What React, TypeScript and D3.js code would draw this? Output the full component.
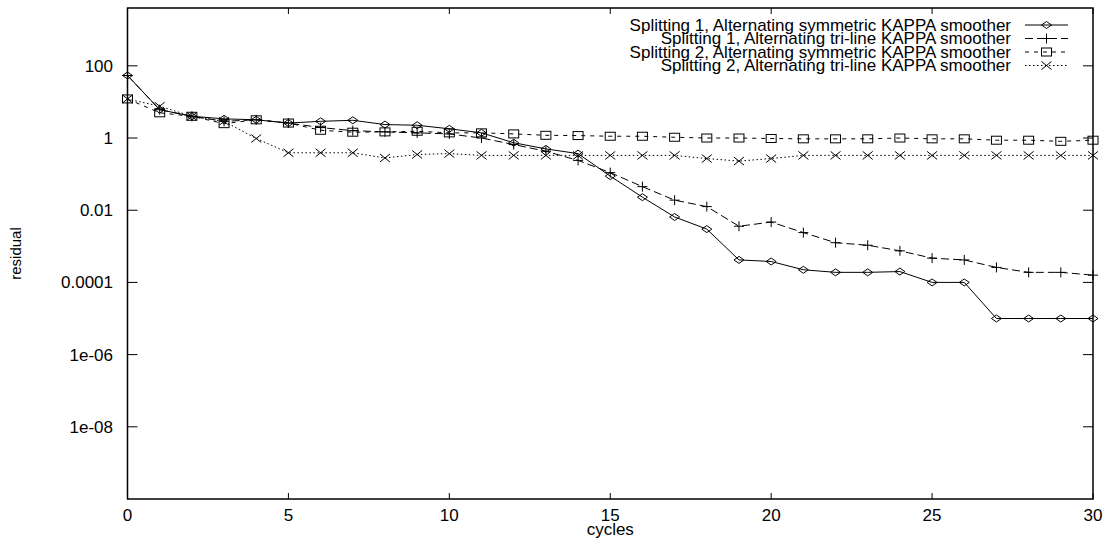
import React from "react";
import * as d3 from "d3";

const cycles = d3.range(0, 31);
const s1Sym = [54, 6.1, 4.0, 3.4, 3.2, 2.6, 2.9, 3.1, 2.36, 2.26, 1.8, 1.39, 0.74, 0.5, 0.37, 0.088, 0.023, 0.0065, 0.003, 0.00042, 0.00038, 0.000224, 0.00019, 0.00019, 0.0002, 0.0001, 0.0001, 1.0e-5, 1.0e-5, 1.0e-5, 1.0e-5];
const s1Tri = [54, 6.1, 4.0, 2.9, 3.2, 2.6, 1.95, 1.6, 1.48, 1.39, 1.3, 1.0, 0.66, 0.43, 0.24, 0.11, 0.045, 0.019, 0.0126, 0.0036, 0.0047, 0.0024, 0.00126, 0.00107, 0.00075, 0.00047, 0.00042, 0.00026, 0.00019, 0.00019, 0.000159];
const s2Sym = [12.1, 5.0, 4.0, 2.5, 3.2, 2.6, 1.64, 1.45, 1.48, 1.54, 1.39, 1.39, 1.3, 1.19, 1.17, 1.12, 1.12, 1.05, 1.0, 1.0, 0.97, 0.95, 0.95, 0.95, 1.0, 0.95, 0.95, 0.87, 0.87, 0.81, 0.87];
const s2Tri = [12.1, 7.6, 4.0, 2.9, 0.97, 0.39, 0.39, 0.39, 0.28, 0.35, 0.37, 0.33, 0.33, 0.33, 0.33, 0.33, 0.33, 0.33, 0.27, 0.23, 0.27, 0.33, 0.33, 0.33, 0.33, 0.33, 0.33, 0.33, 0.33, 0.33, 0.33];

const seriesNames = [
  "Splitting 1, Alternating symmetric KAPPA smoother",
  "Splitting 1, Alternating tri-line KAPPA smoother",
  "Splitting 2, Alternating symmetric KAPPA smoother",
  "Splitting 2, Alternating tri-line KAPPA smoother",
];
const yTickValues = [100, 1, 0.01, 0.0001, 1e-6, 1e-8];
const yTickLabels = ["100", "1", "0.01", "0.0001", "1e-06", "1e-08"];
const xTickValues = [0, 5, 10, 15, 20, 25, 30];

const W = 1109, H = 539;
const left = 127.5, right = 1093, top = 8, bottom = 499;

const dashes = ["none", "8,4", "4,5", "1.5,2.5"];
const markers = ["diamond", "plus", "square", "cross"];

function Marker({ kind, x, y }: { kind: string; x: number; y: number }) {
  const st = { fill: "none", stroke: "#000", strokeWidth: 1 };
  if (kind === "diamond")
    return <path d={`M${x - 5},${y}L${x},${y - 3.5}L${x + 5},${y}L${x},${y + 3.5}Z`} {...st} />;
  if (kind === "plus")
    return <path d={`M${x - 5},${y}H${x + 5}M${x},${y - 5}V${y + 5}`} {...st} />;
  if (kind === "square")
    return <rect x={x - 5} y={y - 4} width={10} height={8} {...st} />;
  return <path d={`M${x - 5},${y - 4}L${x + 5},${y + 4}M${x - 5},${y + 4}L${x + 5},${y - 4}`} {...st} />;
}

export default function App() {
  const x = d3.scaleLinear().domain([0, 30]).range([left, right]);
  const y = d3.scaleLog().domain([1e-10, 4000]).range([bottom, top]);
  const data = [s1Sym, s1Tri, s2Sym, s2Tri];
  const line = d3
    .line<number>()
    .x((_, i) => x(cycles[i]))
    .y((d) => y(d));
  const font = "'Liberation Sans', Arial, Helvetica, sans-serif";
  const fs = 17;
  const legendRowY = [25, 38.5, 52, 65.5];
  const legendTextX = 1011;
  const legendLine = [1025, 1068];
  return (
    <svg width={W} height={H} style={{ position: "absolute", left: 0, top: 0, background: "#fff" }}>
      <rect x={0} y={0} width={W} height={H} fill="#fff" />
      {yTickValues.map((v, i) => (
        <g key={"y" + i}>
          <line x1={left} x2={left + 10} y1={y(v)} y2={y(v)} stroke="#000" />
          <line x1={right} x2={right - 10} y1={y(v)} y2={y(v)} stroke="#000" />
          <text x={113} y={y(v)} dy="0.35em" textAnchor="end" fontFamily={font} fontSize={fs}>
            {yTickLabels[i]}
          </text>
        </g>
      ))}
      {xTickValues.map((v) => (
        <g key={"x" + v}>
          <line x1={x(v)} x2={x(v)} y1={bottom} y2={bottom - 6} stroke="#000" />
          <line x1={x(v)} x2={x(v)} y1={top} y2={top + 6} stroke="#000" />
          <text x={x(v)} y={515} dy="0.35em" textAnchor="middle" fontFamily={font} fontSize={fs}>
            {v}
          </text>
        </g>
      ))}
      <text x={(left + right) / 2} y={529} dy="0.35em" textAnchor="middle" fontFamily={font} fontSize={fs}>
        cycles
      </text>
      <text
        transform={`translate(16,${(top + bottom) / 2}) rotate(-90)`}
        textAnchor="middle"
        dy="0.35em"
        fontFamily={font}
        fontSize={15}
      >
        residual
      </text>
      {data.map((vals, si) => (
        <g key={"s" + si}>
          <path d={line(vals) || ""} fill="none" stroke="#000" strokeWidth={1} strokeDasharray={dashes[si]} />
          {vals.map((v, i) => (
            <Marker key={i} kind={markers[si]} x={x(cycles[i])} y={y(v)} />
          ))}
        </g>
      ))}
      {seriesNames.map((name, si) => (
        <g key={"l" + si}>
          <text x={legendTextX} y={legendRowY[si]} dy="0.35em" textAnchor="end" fontFamily={font} fontSize={fs}>
            {name}
          </text>
          <line
            x1={legendLine[0]}
            x2={legendLine[1]}
            y1={legendRowY[si]}
            y2={legendRowY[si]}
            stroke="#000"
            strokeDasharray={dashes[si]}
          />
          <Marker kind={markers[si]} x={(legendLine[0] + legendLine[1]) / 2} y={legendRowY[si]} />
        </g>
      ))}
      <rect x={left} y={top} width={right - left} height={bottom - top} fill="none" stroke="#000" strokeWidth={1.5} />
    </svg>
  );
}
